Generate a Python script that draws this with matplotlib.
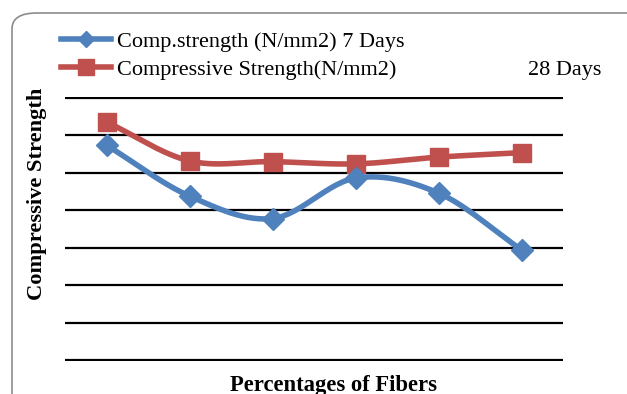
import numpy as np
import matplotlib
matplotlib.use("Agg")
import matplotlib.pyplot as plt
from matplotlib.patches import FancyBboxPatch
from matplotlib.lines import Line2D

# Data (y axis has no labels, units estimated)
categories = [1, 2, 3, 4, 5, 6]
strength_7_days = [28.7, 21.9, 18.9, 24.3, 22.3, 14.7]
strength_28_days = [31.8, 26.6, 26.5, 26.2, 27.1, 27.7]
label_7 = "Comp.strength (N/mm2) 7 Days"
label_28 = "Compressive Strength(N/mm2)"
label_28_suffix = "28 Days"
x_title = "Percentages of Fibers"
y_title = "Compressive Strength"

BLUE = "#4F81BD"
RED = "#C0504D"


def smooth(xs, ys, n=30):
    """Catmull-Rom style smoothing through the data points (like Excel smoothed line)."""
    xs = np.asarray(xs, float)
    ys = np.asarray(ys, float)
    px = np.concatenate([[2 * xs[0] - xs[1]], xs, [2 * xs[-1] - xs[-2]]])
    py = np.concatenate([[2 * ys[0] - ys[1]], ys, [2 * ys[-1] - ys[-2]]])
    outx, outy = [], []
    for i in range(1, len(px) - 2):
        t = np.linspace(0, 1, n, endpoint=False)
        for arr, out in ((px, outx), (py, outy)):
            p0, p1, p2, p3 = arr[i - 1], arr[i], arr[i + 1], arr[i + 2]
            out.extend(0.5 * ((2 * p1) + (-p0 + p2) * t
                              + (2 * p0 - 5 * p1 + 4 * p2 - p3) * t ** 2
                              + (-p0 + 3 * p1 - 3 * p2 + p3) * t ** 3))
    outx.append(xs[-1])
    outy.append(ys[-1])
    return np.array(outx), np.array(outy)


W, H = 627, 394
fig = plt.figure(figsize=(W / 100, H / 100), dpi=100)

# rounded chart border
border = FancyBboxPatch((12 / W, -20 / H), (W + 20) / W, (H - 13 + 20) / H,
                        boxstyle="round,pad=0,rounding_size=0.04",
                        transform=fig.transFigure, facecolor="white",
                        edgecolor="#8c8c8c", linewidth=1.2, zorder=-5)
fig.patches.append(border)

ext = 5 / 37.4  # one pixel in data units
ax = fig.add_axes([65 / W, 1 - 361 / H, 498 / W, 264 / H])
ax.set_zorder(2)
ax.patch.set_alpha(0)
ax.set_xlim(-0.5, len(categories) - 0.5)
ax.set_ylim(0 - ext, 35 + ext)
ax.set_yticks(np.arange(0, 36, 5))
ax.yaxis.grid(True, color="black", linewidth=1.6)
ax.set_axisbelow(True)
for s in ax.spines.values():
    s.set_visible(False)
ax.tick_params(left=False, labelleft=False, bottom=False, labelbottom=False)

xi = np.arange(len(categories))
sx, sy = smooth(xi, strength_28_days)
ax.plot(sx, sy, color=RED, linewidth=4, solid_capstyle="round", zorder=3)
ax.plot(xi, strength_28_days, linestyle="none", marker="s", markersize=13,
        color=RED, zorder=4)
sx, sy = smooth(xi, strength_7_days)
ax.plot(sx, sy, color=BLUE, linewidth=4, solid_capstyle="round", zorder=3)
ax.plot(xi, strength_7_days, linestyle="none", marker="D", markersize=11,
        color=BLUE, zorder=4)

# legend
handles = [Line2D([], [], color=BLUE, linewidth=4, marker="D", markersize=8),
           Line2D([], [], color=RED, linewidth=4, marker="s", markersize=11)]
leg = fig.legend(handles, [label_7, label_28], loc="upper left",
                 bbox_to_anchor=(50 / W, 1 - 20 / H), frameon=False,
                 handlelength=2.25, handletextpad=0.25, labelspacing=0.33,
                 prop={"family": "Liberation Serif", "size": 16}, borderpad=0)
leg.set_zorder(3)
fig.text(601 / W, 1 - 70 / H, label_28_suffix, ha="right", va="center",
         family="Liberation Serif", fontsize=16)

fig.text(37 / W, 1 - 194 / H, y_title, rotation=90, ha="center", va="center",
         family="Liberation Serif", fontweight="bold", fontsize=16.2)
fig.text(333 / W, 1 - 386 / H, x_title, ha="center", va="center",
         family="Liberation Serif", fontweight="bold", fontsize=16.3)

fig.savefig("out.png", dpi=100)
